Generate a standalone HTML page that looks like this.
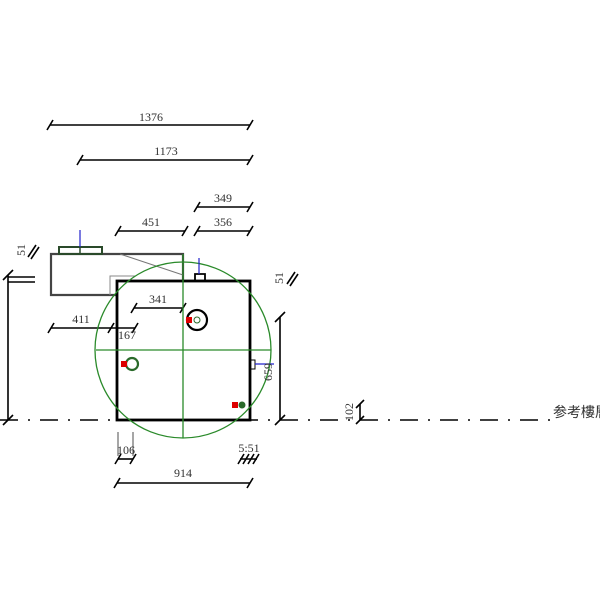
<!DOCTYPE html>
<html><head><meta charset="utf-8"><style>html,body{margin:0;padding:0;background:#fff;overflow:hidden}svg{display:block}</style></head>
<body>
<svg width="600" height="600" viewBox="0 0 600 600" xmlns="http://www.w3.org/2000/svg" font-family="Liberation Serif, serif" font-size="12" fill="#333">
<rect width="600" height="600" fill="#fff"/>
<g stroke="#000" stroke-width="1.6">
<line x1="50" y1="125" x2="250" y2="125"/><line x1="47" y1="130" x2="53" y2="120"/><line x1="247" y1="130" x2="253" y2="120"/>
<line x1="80" y1="160" x2="250" y2="160"/><line x1="77" y1="165" x2="83" y2="155"/><line x1="247" y1="165" x2="253" y2="155"/>
<line x1="197" y1="207" x2="250" y2="207"/><line x1="194" y1="212" x2="200" y2="202"/><line x1="247" y1="212" x2="253" y2="202"/>
<line x1="118" y1="231" x2="185" y2="231"/><line x1="115" y1="236" x2="121" y2="226"/><line x1="182" y1="236" x2="188" y2="226"/>
<line x1="197" y1="231" x2="250" y2="231"/><line x1="194" y1="236" x2="200" y2="226"/><line x1="247" y1="236" x2="253" y2="226"/>
<line x1="134" y1="308" x2="183" y2="308"/><line x1="131" y1="313" x2="137" y2="303"/><line x1="180" y1="313" x2="186" y2="303"/>
<line x1="51" y1="328" x2="135" y2="328"/><line x1="48" y1="333" x2="54" y2="323"/><line x1="108" y1="333" x2="114" y2="323"/><line x1="132" y1="333" x2="138" y2="323"/>
<line x1="118" y1="459" x2="133" y2="459"/><line x1="115" y1="464" x2="121" y2="454"/><line x1="130" y1="464" x2="136" y2="454"/>
<line x1="118" y1="432" x2="118" y2="456" stroke-width="0.7"/><line x1="133" y1="432" x2="133" y2="456" stroke-width="0.7"/>
<line x1="240" y1="459" x2="257" y2="459"/><line x1="238" y1="464" x2="244" y2="454"/><line x1="243" y1="464" x2="249" y2="454"/><line x1="248" y1="464" x2="254" y2="454"/><line x1="253" y1="464" x2="259" y2="454"/>
<line x1="117" y1="483" x2="250" y2="483"/><line x1="114" y1="488" x2="120" y2="478"/><line x1="247" y1="488" x2="253" y2="478"/>
<line x1="8" y1="275" x2="8" y2="420"/><line x1="3" y1="280" x2="13" y2="270"/><line x1="3" y1="425" x2="13" y2="415"/>
<line x1="8" y1="277" x2="35" y2="277"/><line x1="8" y1="282" x2="35" y2="282"/>
<line x1="280" y1="317" x2="280" y2="420"/><line x1="275" y1="322" x2="285" y2="312"/><line x1="275" y1="425" x2="285" y2="415"/>
<line x1="28" y1="257" x2="36" y2="245"/><line x1="31" y1="259" x2="39" y2="247"/>
<line x1="287" y1="284" x2="295" y2="272"/><line x1="290" y1="286" x2="298" y2="274"/>
<line x1="360" y1="404" x2="360" y2="420"/><line x1="356" y1="408" x2="364" y2="400"/><line x1="356" y1="424" x2="364" y2="416"/>
</g>
<line x1="0" y1="420" x2="550" y2="420" stroke="#000" stroke-width="1.5" stroke-dasharray="18,10,2,10"/>
<g fill="none">
<polyline points="117,295 51,295 51,254 183,254 183,281" stroke="#444" stroke-width="2.2"/>
<polyline points="110,295 110,276 135,276" stroke="#888" stroke-width="1"/>
<line x1="120" y1="254" x2="183" y2="275" stroke="#777" stroke-width="1"/>
<rect x="59" y="247" width="43" height="7" stroke="#2a4a2a" stroke-width="2"/>
<line x1="80" y1="247" x2="80" y2="254" stroke="#2a4a2a" stroke-width="1.5"/>
<rect x="117" y="281" width="133" height="139" stroke="#000" stroke-width="2.8"/>
<circle cx="183" cy="350" r="88" stroke="#2a8a2a" stroke-width="1.3"/>
<line x1="96" y1="350" x2="271" y2="350" stroke="#2a8a2a" stroke-width="1.3"/>
<line x1="183" y1="254" x2="183" y2="438" stroke="#2a8a2a" stroke-width="1.3"/>
<polyline points="195,281 195,274 205,274 205,281" stroke="#000" stroke-width="1.8"/>
<circle cx="197" cy="320" r="10" stroke="#000" stroke-width="2.2"/>
<circle cx="197" cy="320" r="3" stroke="#2a6a2a" stroke-width="1"/>
<circle cx="132" cy="364" r="6" stroke="#2a6a2a" stroke-width="2.2"/>
<circle cx="242" cy="405" r="3" fill="#2a6a2a" stroke="#2a6a2a"/>
<rect x="250" y="360" width="5" height="9" stroke="#000" stroke-width="1"/>
</g>
<g stroke="#22c" stroke-width="1.2">
<line x1="80" y1="247" x2="80" y2="230"/><line x1="199" y1="274" x2="199" y2="258"/><line x1="255" y1="364" x2="274" y2="364"/>
</g>
<g fill="#d00"><rect x="186" y="317" width="6" height="6"/><rect x="121" y="361" width="6" height="6"/><rect x="232" y="402" width="6" height="6"/></g>
<text x="151" y="121" text-anchor="middle">1376</text>
<text x="166" y="155" text-anchor="middle">1173</text>
<text x="223" y="202" text-anchor="middle">349</text>
<text x="151" y="226" text-anchor="middle">451</text>
<text x="223" y="226" text-anchor="middle">356</text>
<text x="158" y="303" text-anchor="middle">341</text>
<text x="81" y="323" text-anchor="middle">411</text>
<text x="127" y="339" text-anchor="middle">167</text>
<text x="126" y="454" text-anchor="middle">106</text>
<text x="249" y="452" text-anchor="middle">5:51</text>
<text x="183" y="477" text-anchor="middle">914</text>
<text transform="translate(25,250) rotate(-90)" text-anchor="middle">51</text>
<text transform="translate(283,278) rotate(-90)" text-anchor="middle">51</text>
<text transform="translate(353,412) rotate(-90)" text-anchor="middle">102</text>
<text transform="translate(272,372) rotate(-90)" text-anchor="middle">659</text>
<text x="553" y="417" font-family="Liberation Sans, Noto Sans CJK TC, sans-serif" font-size="14">参考樓層</text>
</svg>
</body></html>
